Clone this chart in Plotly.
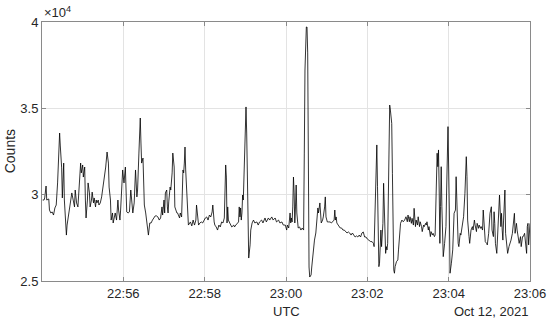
import plotly.graph_objects as go
import pandas as pd

# seconds after 22:54:00 UTC, Oct 12 2021
secs = [1, 3, 4, 6, 7, 10, 11, 13, 15, 17, 19, 21, 23, 25, 26, 27, 29, 30, 32, 33,
        35, 36, 37, 39, 40, 42, 44, 46, 48, 49, 51, 53, 55, 57, 58, 60, 61, 63, 64, 65,
        67, 68, 70, 71, 73, 74, 76, 77, 79, 80, 81, 83, 84, 86, 88, 90, 92, 94, 96, 98,
        99, 101, 102, 104, 105, 107, 108, 110, 112, 113, 115, 116, 117, 119,
        120, 121, 123, 124, 125, 127, 129, 131, 133, 134, 136, 138, 140, 141, 143, 144,
        145, 146, 147, 149, 150, 151, 153, 155, 157, 159, 161, 163, 165, 167, 169, 171,
        173, 175, 177, 178, 180, 181, 182, 184, 185, 186, 187, 189, 190, 192, 193, 194,
        195, 196, 197, 199, 200, 203, 204, 206, 208, 209, 210, 211, 212, 213, 215, 216,
        218, 219, 221, 223, 225, 227, 228, 230, 231, 233, 235, 237, 239, 241, 243,
        245, 247, 249, 251, 252, 254, 255, 257, 259, 261, 263, 265, 267, 269, 270, 271,
        272, 273, 274, 275, 277, 279, 280, 283, 284, 286, 288, 290, 291, 292, 293, 294,
        295, 296, 297, 299, 300, 301, 302, 303, 304, 305, 307, 308, 310,
        312, 314, 317, 319, 321, 324, 326, 329, 331, 334, 336, 339, 341, 344, 346, 349,
        351, 354, 356, 359,
        361, 362, 364, 366, 367, 368, 369, 370, 371, 372, 373, 374, 375, 376, 377, 378,
        380, 382, 384, 386, 387, 388, 390, 391, 392, 393, 394, 395, 397, 398, 400, 402,
        404, 405, 406, 407, 408, 409, 410, 411, 412, 414, 415, 417, 418, 419, 421, 423,
        425, 427, 429, 431, 432, 433, 434, 435, 437, 439, 440, 442, 444, 446, 448, 450,
        452, 454, 456, 458, 460, 462, 464, 466, 468, 470, 472, 474, 476, 478, 480, 482, 483,
        485, 487, 489, 490, 491, 492, 493, 494, 495, 496, 497, 498, 499, 500, 501, 502,
        503, 504, 505, 506, 507, 508, 509, 510, 511, 512, 513, 514, 515, 516, 517, 518,
        519, 520, 521, 523, 525, 526, 528, 529, 531, 533, 535, 537, 539, 540, 542, 543,
        545, 546, 548, 549, 551, 552, 554, 555, 557, 558, 560, 561, 563, 564, 566, 567,
        568, 570, 571, 573, 574, 576, 577, 579, 580, 582, 583, 584, 585, 586, 587, 588,
        589, 590, 591, 592, 594, 596, 597, 598, 599,
        601, 602, 604, 606, 608, 610, 611, 612, 614, 615, 617, 618, 621, 622, 624, 626,
        627, 628, 630, 631, 633, 635, 636, 638, 639, 641, 642, 644, 645, 647, 648, 650,
        651, 653, 654, 656, 657, 659, 661, 663, 664, 666, 667, 668, 669, 671, 672, 674,
        675, 677, 678, 679, 680, 681, 683, 684, 686, 687, 689, 691, 692, 694, 695, 697,
        698, 700, 701, 703, 704, 706, 707, 709, 710, 712, 713, 715, 716, 717, 718, 719, 720]

counts = [29690, 29690, 29810, 30500, 29690, 29750, 29110, 28940, 29000, 28820, 29230, 29400,
          30680, 33170, 33570, 32820, 31550, 29810, 31830, 29690, 28240, 27660, 28240, 28820,
          29000, 29690, 30100, 29690, 29290, 30270, 29520, 29290, 30730, 31830, 31260, 31720,
          31020, 31600, 29690, 28650, 29690, 30680, 30100, 29290, 29690, 30150, 29520, 29810,
          29290, 29690, 29520, 29690, 29400, 29520, 29870, 30440, 31020, 31600, 32470, 31830,
          30440, 29690, 28530, 28940, 28360, 28710, 28940, 28530, 29690, 29110, 28530, 29110,
          30270, 31430,
          31020, 30680, 31600, 29690, 29000, 28940, 29000, 30270, 29110, 28940, 29520, 31430,
          29870, 30270, 32410, 33570, 34440, 32990, 31830, 32120, 31020, 29400, 28940, 28420,
          27660, 28360, 28360, 28530, 28650, 28770, 28770, 28710, 28530, 28650, 29290, 28820,
          29690, 28940, 30100, 30270, 29290, 28940, 29580, 30440, 30270, 31260, 32410, 31890,
          31600, 29290, 29110, 28940, 28940, 28650, 28940, 28710, 31430, 31260, 31830, 32760,
          31430, 30440, 29110, 28240, 28360, 28420, 28190, 28530, 28240, 28530, 29400, 28530,
          28240, 28360, 28420, 28360, 28530, 28650, 28710,
          28530, 28820, 28710, 29000, 29400, 28420, 28240, 28130, 27950, 28240, 28130, 28420,
          28360, 28650, 30270, 31720, 31020, 28360, 29290, 28530, 28360, 28240, 28130, 28240,
          28130, 28240, 28360, 28420, 29290, 28710, 29230, 28530, 28940, 29980, 29690, 32180,
          33750, 35080, 33570, 31260, 28360, 26330, 27090, 27950, 28360,
          28530, 28360, 28420, 28240, 28420, 28530, 28360, 28650, 28420, 28650, 28530, 28710,
          28530, 28650, 28420, 28530, 28360, 28420, 28240, 28240,
          27950, 28240, 28070, 28940, 28360, 28650, 28420, 29290, 31020, 30100, 28360, 29290,
          30560, 28940, 28130, 28070, 28130, 27950, 28070, 27950, 32410, 37220, 39710, 39710,
          38210, 30440, 25810, 25230, 25350, 25810, 26620, 27370, 27780, 28530, 29110, 29230,
          28940, 29400, 29520, 28940, 28360, 28530, 28710, 29290, 29870, 28710, 28420, 28420,
          28420, 28360, 28420, 28530, 29110, 28530, 28710, 28360, 28240, 28130, 28070, 28070,
          27950, 27950, 27840, 27780, 27840, 27780, 27660, 27780, 27660, 27550, 27610, 27550,
          27660, 27550, 27780, 27840, 27550, 27550, 27430, 27370, 27370,
          27280, 27280, 27180, 26990, 28920, 30270, 31240, 32880, 30460, 27370, 25830, 26030,
          26990, 27950, 26990, 28050, 28340, 30660, 29300, 26800, 26600, 26990, 26800, 27180,
          29690, 32200, 35190, 34900, 34330, 34130, 31240, 27370, 25640, 25450, 25830, 26120,
          26220, 26800, 27570, 28340, 28530, 28430, 28530, 28720, 28430, 28820, 28430, 28720,
          28340, 28630, 28240, 29210, 28150, 28530, 28240, 28720, 28150, 28430, 28150, 27860,
          28240, 28150, 28340, 28240, 28430, 27950, 28150, 27570, 27860, 27660, 27760, 27570,
          27660, 30270, 32400, 31620, 32590, 30270, 27180, 29300, 31620, 29300, 26800, 26410,
          27180, 28150, 30270, 32590, 33940,
          29110, 25450, 26030, 26800, 28920, 29110, 31040, 29110, 27180, 26990, 27760, 27660,
          28340, 28720, 30080, 32200, 31040, 28530, 27570, 27180, 27950, 28150, 27950, 28530,
          28240, 27860, 28340, 28050, 28240, 28050, 28150, 27950, 29110, 27760, 27280, 27180,
          27090, 27760, 28920, 29300, 27950, 27570, 29010, 28340, 27180, 26600, 27570, 29110,
          29980, 28150, 28920, 27950, 27370, 28530, 30270, 27760, 27180, 26600, 26990, 27180,
          27370, 27760, 28150, 28920, 27760, 28340, 27950, 27570, 27180, 27570, 26990, 27570,
          27570, 27760, 27280, 26600, 28150, 28340, 27090, 27570, 28340]

start = pd.Timestamp("2021-10-12 22:54:00")
times = [start + pd.Timedelta(seconds=s) for s in secs]
y_scaled = [c / 1e4 for c in counts]

x_ticks = ["2021-10-12 22:56:00", "2021-10-12 22:58:00", "2021-10-12 23:00:00",
           "2021-10-12 23:02:00", "2021-10-12 23:04:00", "2021-10-12 23:06:00"]
x_ticklabels = ["22:56", "22:58", "23:00", "23:02", "23:04", "23:06"]
y_ticks = [2.5, 3, 3.5, 4]
y_ticklabels = ["2.5", "3", "3.5", "4"]

font = "Liberation Sans, Arial, Helvetica, sans-serif"
txt = "#262626"
axis_col = "#8a8a8a"
grid_col = "#e3e3e3"

fig = go.Figure()
fig.add_trace(go.Scatter(x=times, y=y_scaled, mode="lines",
                         line=dict(color="black", width=0.8), showlegend=False,
                         hoverinfo="skip"))

fig.update_layout(
    width=550, height=321,
    margin=dict(l=42, r=20, t=22, b=40, autoexpand=False),
    paper_bgcolor="white", plot_bgcolor="white",
    font=dict(family=font, size=13, color=txt),
    showlegend=False,
)
fig.update_xaxes(
    type="date", range=["2021-10-12 22:54:00", "2021-10-12 23:06:00"],
    tickmode="array", tickvals=x_ticks, ticktext=x_ticklabels,
    ticks="inside", ticklen=4, tickcolor=axis_col, tickwidth=1,
    showline=True, linecolor=axis_col, linewidth=1, mirror="ticks",
    showgrid=True, gridcolor=grid_col, gridwidth=1, zeroline=False,
    tickfont=dict(family=font, size=13, color=txt), automargin=False,
)
fig.update_yaxes(
    range=[2.5, 4], tickmode="array", tickvals=y_ticks, ticktext=y_ticklabels,
    ticks="inside", ticklen=4, tickcolor=axis_col, tickwidth=1,
    showline=True, linecolor=axis_col, linewidth=1, mirror="ticks",
    showgrid=True, gridcolor=grid_col, gridwidth=1, zeroline=False,
    tickfont=dict(family=font, size=13, color=txt), automargin=False,
)
fig.add_annotation(text="Counts", xref="paper", yref="paper", x=-0.066, y=0.5,
                   xanchor="center", yanchor="middle", textangle=-90, showarrow=False,
                   font=dict(family=font, size=14, color=txt))
fig.add_annotation(text="UTC", xref="paper", yref="paper", x=0.5, y=-0.118,
                   xanchor="center", yanchor="middle", showarrow=False,
                   font=dict(family=font, size=13, color=txt))
fig.add_annotation(text="Oct 12, 2021", xref="paper", yref="paper", x=1.0, y=-0.118,
                   xanchor="right", yanchor="middle", showarrow=False,
                   font=dict(family=font, size=13, color=txt))
fig.add_annotation(text="×10<sup>4</sup>", xref="paper", yref="paper", x=0.0, y=1.0,
                   xanchor="left", yanchor="bottom", showarrow=False,
                   font=dict(family=font, size=13, color=txt))

fig.write_html("out.html",
               config={"displayModeBar": False},
               post_script="document.body.style.margin='0';"
                           "document.body.style.overflow='hidden';")
